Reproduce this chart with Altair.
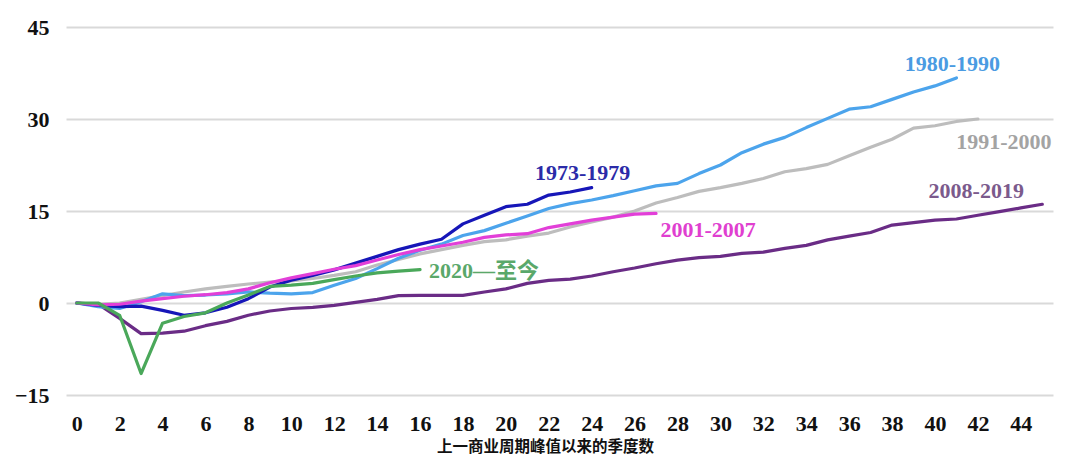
import altair as alt
import pandas as pd

# ---- data ----
s1973 = [0, -0.4, -0.6, -0.5, -1.2, -2.0, -1.6, -0.7, 0.7, 2.6, 3.7, 4.5, 5.4, 6.5,
         7.6, 8.7, 9.6, 10.4, 12.9, 14.3, 15.7, 16.1, 17.6, 18.1, 18.8]
s1980 = [0, -0.6, -0.9, 0.2, 1.5, 1.2, 1.3, 1.5, 1.8, 1.6, 1.5, 1.7, 2.9, 4.0, 5.6,
         7.3, 8.6, 9.6, 11.0, 11.8, 13.0, 14.2, 15.4, 16.2, 16.8, 17.5, 18.3, 19.1,
         19.5, 21.1, 22.5, 24.5, 25.9, 27.0, 28.6, 30.1, 31.6, 32.0, 33.2, 34.4,
         35.4, 36.7]
s1991 = [0, -0.2, 0, 0.6, 1.2, 1.8, 2.3, 2.7, 3.1, 3.4, 3.6, 4.0, 4.5, 5.1, 6.2,
         7.1, 8.0, 8.7, 9.4, 10.0, 10.3, 10.9, 11.4, 12.4, 13.2, 14.0, 15.0, 16.3,
         17.2, 18.2, 18.8, 19.5, 20.3, 21.4, 21.9, 22.6, 24.0, 25.4, 26.7, 28.5,
         28.9, 29.6, 30.0]
s2001 = [0, -0.3, -0.2, 0.3, 0.7, 1.1, 1.35, 1.7, 2.3, 3.3, 4.1, 4.8, 5.5, 6.1,
         7.0, 7.9, 8.7, 9.3, 9.9, 10.7, 11.1, 11.3, 12.3, 12.9, 13.5, 14.0, 14.5,
         14.6]
s2008 = [0, -0.2, -2.5, -5.0, -4.9, -4.6, -3.7, -3.0, -2.0, -1.3, -0.9, -0.7,
         -0.4, 0.1, 0.6, 1.2, 1.25, 1.25, 1.25, 1.8, 2.3, 3.2, 3.7, 3.9, 4.4, 5.1,
         5.7, 6.4, 7.0, 7.4, 7.6, 8.1, 8.3, 8.9, 9.4, 10.3, 10.9, 11.5, 12.7, 13.1,
         13.5, 13.7, 14.3, 14.9, 15.5, 16.1]
s2020 = [0, 0, -2.0, -11.5, -3.3, -2.2, -1.6, 0, 1.3, 2.7, 2.9, 3.2, 3.8, 4.4,
         4.9, 5.2, 5.45]

names = ["2008-2019", "1991-2000", "1980-1990", "1973-1979", "2001-2007", "2020—至今"]
values = [s2008, s1991, s1980, s1973, s2001, s2020]
y_ticks = [-15, 0, 15, 30, 45]
x_ticks = list(range(0, 45, 2))
x_title = "上一商业周期峰值以来的季度数"

# ---- styles ----
line_colors = {"2008-2019": "#6a2c86", "1991-2000": "#bdbdbd", "1980-1990": "#4ca4ec",
               "1973-1979": "#1616b8", "2001-2007": "#e23fd8", "2020—至今": "#4aa85a"}
label_colors = {"2008-2019": "#7b5a8c", "1991-2000": "#a3a3a3", "1980-1990": "#4a9be2",
                "1973-1979": "#2b2ba8", "2001-2007": "#e03fd0", "2020—至今": "#5aa86a"}
label_offsets = {"2008-2019": (-66, -13, "center"), "1991-2000": (26, 23, "center"),
                 "1980-1990": (-4, -14, "center"), "1973-1979": (-9, -15, "center"),
                 "2001-2007": (52, 17, "center"), "2020—至今": (9, 1, "left")}

SERIF = "Liberation Serif, Noto Sans CJK SC"

xscale = alt.Scale(domain=[-0.5, 45.5], nice=False, zero=False)
yscale = alt.Scale(domain=[-15, 45], nice=False, zero=False)
xaxis = alt.Axis(values=x_ticks, title=x_title, grid=False, domain=False, ticks=False,
                 tickSize=0, labelPadding=18, labelFont="Liberation Serif",
                 labelFontWeight="bold", labelFontSize=22, labelColor="#111111",
                 labelFlush=False, labelOverlap=False,
                 titleFont="Noto Sans CJK SC", titleFontWeight="bold", titleFontSize=15.5,
                 titleColor="#111111", titleBaseline="middle", titleY=51, titleX=479,
                 titleAlign="center", titleAnchor="start")
yaxis = alt.Axis(values=y_ticks, title=None, grid=True, gridColor="#d9d9d9",
                 gridWidth=2, domain=False, ticks=False, tickSize=0, labelPadding=17,
                 labelFont="Liberation Serif", labelFontWeight="bold", labelFontSize=22,
                 labelColor="#111111", labelFlush=False)

layers = []
for name, vals in zip(names, values):
    df = pd.DataFrame({"q": list(range(len(vals))), "v": vals})
    layers.append(
        alt.Chart(df).mark_line(color=line_colors[name], strokeWidth=3.2,
                                strokeJoin="round", strokeCap="round").encode(
            x=alt.X("q:Q", scale=xscale, axis=xaxis),
            y=alt.Y("v:Q", scale=yscale, axis=yaxis),
        )
    )

for name, vals in zip(names, values):
    dx, dy, align = label_offsets[name]
    ldf = pd.DataFrame({"q": [len(vals) - 1], "v": [vals[-1]], "label": [name]})
    layers.append(
        alt.Chart(ldf).mark_text(dx=dx, dy=dy, align=align, baseline="middle",
                                 font=SERIF, fontWeight="bold", fontSize=22,
                                 color=label_colors[name]).encode(
            x=alt.X("q:Q", scale=xscale, axis=xaxis),
            y=alt.Y("v:Q", scale=yscale, axis=yaxis),
            text="label:N",
        )
    )

chart = alt.layer(*layers).properties(
    width=987, height=368,
    autosize=alt.AutoSizeParams(type="none"),
    padding={"left": 58, "top": 19, "right": 19, "bottom": 60},
    background="white",
).configure_view(stroke=None)

chart.save("out.html", embed_options={"renderer": "svg", "actions": False})
